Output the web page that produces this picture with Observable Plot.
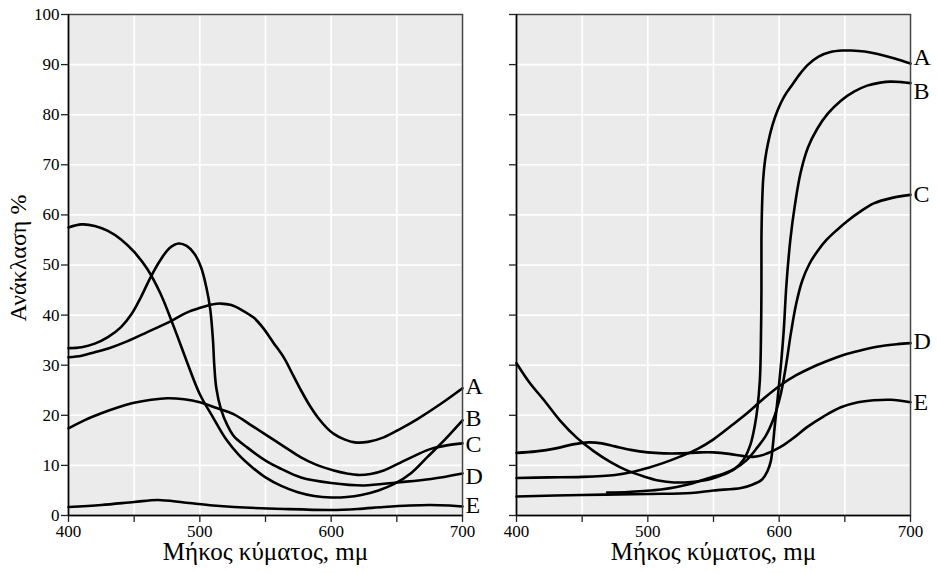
<!DOCTYPE html>
<html>
<head>
<meta charset="utf-8">
<script src="https://cdn.jsdelivr.net/npm/d3@7"></script>
<script src="https://cdn.jsdelivr.net/npm/@observablehq/plot@0.6"></script>
<style>
  html, body { margin: 0; padding: 0; background: white; }
  #wrap { display: flex; flex-direction: row; width: 937px; height: 574px; }
  #wrap svg, #wrap svg text { font-family: "Liberation Serif", "DejaVu Serif", serif !important; }
</style>
</head>
<body>
<div id="wrap"></div>
<script>
// ---- data (wavelength mμ, reflectance %) ----
const seriesNames = ["A", "B", "C", "D", "E"];
const xTicks = [400, 450, 500, 550, 600, 650, 700];
const yTicks = [0, 10, 20, 30, 40, 50, 60, 70, 80, 90, 100];

// left panel
const leftA = [[400,31.6],[410,31.9],[420,32.6],[432,33.5],[445,34.8],[460,36.6],[478,38.8],[490,40.5],[501,41.5],[509,42.1],[516,42.3],[524,42],[532,41],[541,39.5],[548,37.5],[556,34.5],[564,31.5],[571,28],[577,25],[584,21.8],[590,19.5],[597,17.4],[602,16.3],[610,15.2],[618,14.6],[628,14.7],[640,15.6],[652,17.2],[666,19.3],[683,22.2],[700,25.4]];
const leftB = [[400,57.5],[410,58.1],[420,57.8],[430,56.8],[440,55.1],[450,52.6],[460,49.2],[470,44.3],[480,37.8],[490,30.8],[500,24.2],[510,19.6],[520,15.2],[530,12],[540,9.6],[550,7.6],[562,5.9],[574,4.7],[587,3.9],[600,3.6],[612,3.7],[623,4.1],[636,5],[648,6.3],[661,8.5],[673,11.6],[686,15],[700,19]];
const leftC = [[400,17.4],[412,19],[425,20.4],[438,21.6],[450,22.5],[463,23.1],[475,23.4],[488,23.2],[500,22.6],[511,21.6],[526,20.2],[538,18.2],[551,16],[565,13.6],[577,11.6],[588,10.2],[602,9],[612,8.4],[620,8.1],[630,8.3],[640,9],[650,10.2],[665,12.1],[676,13.3],[688,14],[700,14.4]];
const leftD = [[400,33.4],[410,33.6],[420,34.3],[430,35.6],[440,37.6],[448,40.2],[455,43.5],[462,47.3],[470,51],[477,53.4],[484,54.3],[490,53.8],[496,52.2],[501,49.5],[505,45.5],[508,41],[510,35],[511,30],[512.5,25.5],[516,21.3],[521,18],[526,15.8],[536,13.6],[551,10.8],[562,9.3],[577,7.6],[600,6.5],[625,6],[650,6.6],[676,7.3],[700,8.4]];
const leftE = [[400,1.7],[425,2.1],[450,2.7],[468,3.1],[488,2.6],[510,2],[526,1.7],[564,1.3],[600,1.1],[620,1.3],[640,1.7],[660,2],[675,2.1],[690,2],[700,1.8]];
const leftLabelY = [25.8, 19.4, 14.2, 7.8, 2.0];

// right panel
const rightA = [[400,30.4],[410,26.5],[421,23],[433,19],[446,15.5],[459,12.8],[472,10.6],[484,9],[497,7.8],[508,7],[520,6.6],[533,6.7],[548,7.3],[558,8.2],[566,9.3],[573,11.2],[578.3,14.3],[581.5,18],[583.5,21.6],[585.3,27],[586,33],[586.5,45],[586.5,55],[587,62],[587.8,67],[589.3,71],[591.5,74.3],[595,78],[599,81],[604,83.7],[610,86],[616,88.2],[622,90],[630,91.6],[639,92.5],[648,92.8],[655,92.8],[665,92.6],[675,92.1],[688,91.2],[700,90.2]];
const rightB = [[400,3.8],[450,4.1],[500,4.3],[533,4.5],[550,5],[571,5.5],[580,6.2],[587,7.2],[591,8.8],[593.6,10.8],[595.2,14],[596.5,17.5],[598.7,23],[601.2,29.6],[603.5,37],[605.5,46],[608.5,55],[612,62],[616.4,68.5],[622,73.5],[629,77.2],[637,80.2],[647,82.8],[657,84.6],[667,85.8],[677,86.4],[685,86.6],[693,86.5],[700,86.3]];
const rightC = [[469,4.6],[485,4.7],[497,4.9],[510,5.2],[522,5.7],[535,6.5],[548,7.6],[557,8.3],[566,9.3],[575,11],[583.4,13.6],[590,16],[596,19.5],[601,24],[605,29.6],[609,36.5],[613,42.3],[617.5,46.8],[623,50.2],[629,52.7],[636,55],[644,57],[652,58.8],[662,60.7],[672,62.3],[686,63.4],[700,64]];
const rightD = [[400,7.5],[425,7.6],[450,7.7],[475,8.1],[490,8.8],[500,9.5],[512,10.5],[525,11.8],[538,13.3],[550,15.2],[563,17.8],[576,20.5],[588,23.3],[601,26],[613,28],[626,29.7],[640,31.2],[652,32.3],[664,33.1],[677,33.8],[690,34.2],[700,34.4]];
const rightE = [[400,12.5],[415,12.8],[430,13.4],[443,14.2],[455,14.6],[465,14.4],[475,13.8],[487,13.1],[500,12.6],[512,12.4],[525,12.4],[540,12.6],[550,12.6],[562,12.3],[572,11.9],[580,11.7],[588,12.1],[596,13],[603,14],[611,15.5],[621,17.6],[634,19.8],[647,21.6],[660,22.6],[672,23],[685,23.1],[700,22.6]];
const rightLabelY = [91.4, 84.6, 64.2, 34.7, 22.6];

const xLabel = "Μήκος κύματος, mμ";
const yLabel = "Ανάκλαση %";

// ---- build tables ----
function toRows(curves) {
  const rows = [];
  curves.forEach((c, i) => c.forEach(([x, y]) => rows.push({series: seriesNames[i], x, y})));
  return rows;
}
const leftRows = toRows([leftA, leftB, leftC, leftD, leftE]);
const rightRows = toRows([rightA, rightB, rightC, rightD, rightE]);
const leftLabels = seriesNames.map((s, i) => ({s, y: leftLabelY[i]}));
const rightLabels = seriesNames.map((s, i) => ({s, y: rightLabelY[i]}));

const FONT = "Liberation Serif, DejaVu Serif, serif";

function panel({rows, labels, width, marginLeft, marginRight, showY}) {
  const marks = [
    Plot.frame({fill: "#ebebeb", stroke: null}),
    Plot.gridX(xTicks, {stroke: "white", strokeOpacity: 1, strokeWidth: 1.6}),
    Plot.gridY(yTicks, {stroke: "white", strokeOpacity: 1, strokeWidth: 1.6}),
    Plot.line(rows, {x: "x", y: "y", z: "series", curve: "catmull-rom", stroke: "black", strokeWidth: 2.6}),
    Plot.frame({stroke: "#444", strokeWidth: 1.5}),
    Plot.ruleX([400], {stroke: "black", strokeWidth: 1.5}),
    Plot.ruleY([0], {stroke: "black", strokeWidth: 1.5}),
    Plot.axisX(xTicks, {tickSize: 7, tickPadding: 2, stroke: "#222", strokeWidth: 1.3,
      tickFormat: d => d % 100 === 0 ? String(d) : "", label: null, fontSize: 17, fill: "#000", fontFamily: FONT}),
    Plot.axisY(yTicks, {tickSize: 7, tickPadding: 2, stroke: "#222", strokeWidth: 1.3,
      tickFormat: d => showY ? String(d) : "", label: null, fontSize: 17, fill: "#000", fontFamily: FONT}),
    Plot.text(labels, {x: 700, y: "y", text: "s", textAnchor: "start", dx: 3, fontSize: 24, fill: "#000", fontFamily: FONT}),
    Plot.text([xLabel], {frameAnchor: "bottom", textAnchor: "middle", dy: 44, fontSize: 25, fill: "#000", fontFamily: FONT})
  ];
  if (showY) {
    marks.push(Plot.text([yLabel], {frameAnchor: "left", textAnchor: "middle", dx: -50, dy: -7, rotate: -90, fontSize: 24, fill: "#000", fontFamily: FONT}));
  }
  return Plot.plot({
    width, height: 574,
    marginTop: 14, marginBottom: 59, marginLeft, marginRight,
    x: {domain: [400, 700]},
    y: {domain: [0, 100]},
    style: {fontFamily: FONT, background: "white", color: "#000", overflow: "visible"},
    marks
  });
}

const wrap = document.getElementById("wrap");
wrap.appendChild(panel({rows: leftRows, labels: leftLabels, width: 490, marginLeft: 68, marginRight: 28, showY: true}));
wrap.appendChild(panel({rows: rightRows, labels: rightLabels, width: 447, marginLeft: 26, marginRight: 27, showY: false}));
</script>
</body>
</html>
